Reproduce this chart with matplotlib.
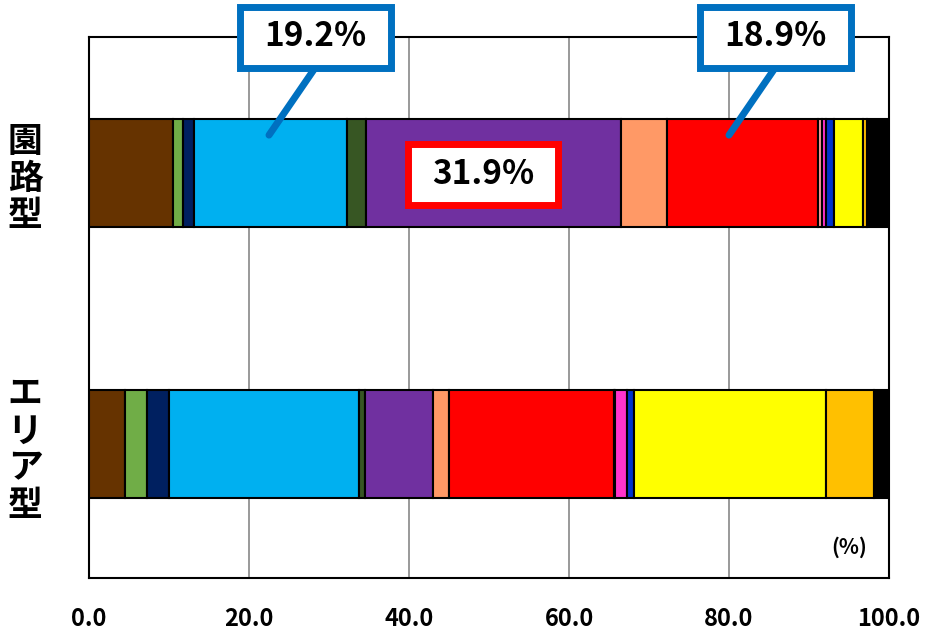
import matplotlib
matplotlib.use("Agg")
import matplotlib.pyplot as plt
from matplotlib.patches import Rectangle

plt.rcParams['font.family'] = ['Noto Sans CJK JP', 'DejaVu Sans']

# data (share in %, left to right)
groups = ['エリア型', '園路型']
colors = ['#663300', '#70AD47', '#002060', '#00B0F0', '#375623', '#7030A0',
          '#FF9966', '#FF0000', '#FF9999', '#FF33CC', '#0033CC', '#FFFF00',
          '#FFC000', '#000000']
area_vals = [4.5, 2.8, 2.7, 23.7, 0.8, 8.5, 2.0, 20.6, 0.2, 1.4, 0.9, 24.0, 6.0, 1.9]
enro_vals = [10.5, 1.3, 1.3, 19.2, 2.3, 31.9, 5.7, 18.9, 0.5, 0.5, 1.0, 3.6, 0.6, 2.7]

fig = plt.figure(figsize=(9.29, 6.36), dpi=100)
ax = fig.add_axes([89 / 929, 58 / 636, 800 / 929, 541 / 636])

series = list(zip(area_vals, enro_vals))
left = [0.0, 0.0]
for vals, c in zip(series, colors):
    ax.barh([0, 1], vals, left=left, height=0.40, color=c,
            edgecolor='black', linewidth=1.5, zorder=3)
    left = [l + v for l, v in zip(left, vals)]

ax.set_xlim(0, 100)
ax.set_ylim(-0.494, 1.502)
ax.set_xticks([0, 20, 40, 60, 80, 100])
ax.set_xticklabels(['0.0', '20.0', '40.0', '60.0', '80.0', '100.0'],
                   fontsize=17, fontweight='bold')
ax.tick_params(axis='x', length=0, pad=21)
ax.set_yticks([])
ax.grid(axis='x', color='#888888', linewidth=1.2, zorder=0)
for s in ax.spines.values():
    s.set_color('black')
    s.set_linewidth(1.5)

# vertical category labels
for yc, name in [(1, groups[1]), (0, groups[0])]:
    ax.text(-0.08, yc - 0.02, '\n'.join(name), transform=ax.get_yaxis_transform(),
            ha='center', va='center', fontsize=25, fontweight='bold',
            linespacing=1.08)

ax.text(97.2, -0.38, '(%)', fontsize=15, fontweight='bold', ha='right', va='center')


# callout boxes (figure pixel coords, origin bottom-left)
def callout(cx, cy, w, h, label, ec):
    fig.patches.append(Rectangle((cx - w / 2, cy - h / 2), w, h,
                                 transform=None, fc='white', ec=ec,
                                 lw=5, zorder=10))
    fig.text(cx / 929, cy / 636, label, ha='center', va='center',
             fontsize=24, fontweight='bold', zorder=11)


callout(315, 636 - 37, 151, 61, '19.2%', '#0070C0')
callout(775, 636 - 37, 151, 61, '18.9%', '#0070C0')
callout(483, 636 - 174, 150, 61, '31.9%', '#FF0000')

# leader lines
start1 = enro_vals[0] + enro_vals[1] + enro_vals[2]
ax.annotate('', xy=(start1 + 9.4, 1.14), xytext=(315, 636 - 68),
            textcoords='figure pixels',
            arrowprops=dict(arrowstyle='-', color='#0070C0', lw=5,
                            shrinkA=0, shrinkB=0), zorder=9)
ax.annotate('', xy=(80, 1.14), xytext=(775, 636 - 68),
            textcoords='figure pixels',
            arrowprops=dict(arrowstyle='-', color='#0070C0', lw=5,
                            shrinkA=0, shrinkB=0), zorder=9)

fig.savefig('out.png', dpi=100)
